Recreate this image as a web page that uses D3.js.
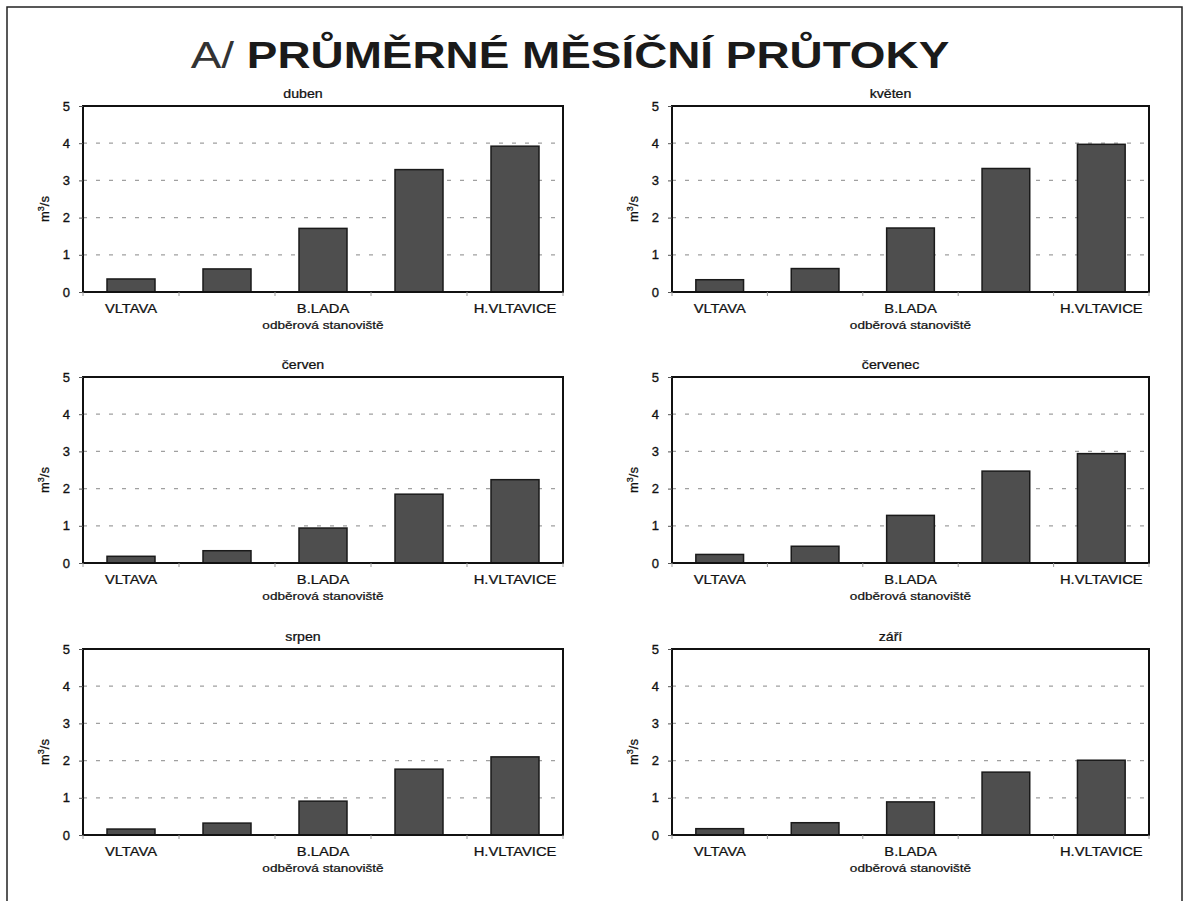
<!DOCTYPE html>
<html>
<head>
<meta charset="utf-8">
<script src="https://cdn.jsdelivr.net/npm/d3@7"></script>
<style>
  body { margin: 0; background: #fff; }
  svg { display: block; font-family: "Liberation Sans", Arial, sans-serif; }
</style>
</head>
<body>
<svg id="chart"></svg>
<script>
// data (m3/s)
const months = ["duben", "květen", "červen", "červenec", "srpen", "září"];
const siteLabels = ["VLTAVA", "", "B.LADA", "", "H.VLTAVICE"]; // 2nd and 4th labels hidden in original
const flowDuben    = [0.35, 0.62, 1.71, 3.29, 3.92];
const flowKveten   = [0.33, 0.63, 1.72, 3.32, 3.97];
const flowCerven   = [0.18, 0.33, 0.94, 1.85, 2.24];
const flowCervenec = [0.23, 0.45, 1.28, 2.47, 2.94];
const flowSrpen    = [0.16, 0.32, 0.91, 1.77, 2.10];
const flowZari     = [0.17, 0.33, 0.89, 1.69, 2.01];
const yTicks = [0, 1, 2, 3, 4, 5];

const flows = [flowDuben, flowKveten, flowCerven, flowCervenec, flowSrpen, flowZari];

const width = 1188, height = 901;
const sx = 1.18; // the scan is stretched sideways, text follows it

const svg = d3.select("#chart")
    .attr("width", width)
    .attr("height", height);

// outer frame of the slide
svg.append("rect")
    .attr("x", 7).attr("y", 7)
    .attr("width", 1175).attr("height", 910)
    .attr("fill", "none")
    .attr("stroke", "#222")
    .attr("stroke-width", 1.5);

// main title
const title = svg.append("text")
    .attr("transform", `translate(570,68) scale(1.24,1)`)
    .attr("text-anchor", "middle")
    .attr("font-size", 37)
    .attr("fill", "#1a1a1a");
title.append("tspan").attr("font-weight", "normal").attr("fill", "#333").text("A/ ");
title.append("tspan").attr("font-weight", "bold").text("PRŮMĚRNÉ MĚSÍČNÍ PRŮTOKY");

// panel layout
const colX = [83, 672];
const colW = [480, 477];
const rowY = [106, 377, 649];
const plotH = 186;

const y = d3.scaleLinear().domain([0, 5]).range([plotH, 0]);

function stretchedText(g, x, yy, txt, size) {
    return g.append("text")
        .attr("transform", `translate(${x},${yy}) scale(${sx},1)`)
        .attr("text-anchor", "middle")
        .attr("font-size", size)
        .attr("fill", "#111")
        .attr("stroke", "#111")
        .attr("stroke-width", 0.25)
        .text(txt);
}

months.forEach((month, i) => {
    const col = i % 2, row = Math.floor(i / 2);
    const w = colW[col];
    const g = svg.append("g")
        .attr("transform", `translate(${colX[col]},${rowY[row]})`);

    const x = d3.scaleBand()
        .domain(d3.range(siteLabels.length))
        .range([0, w])
        .paddingInner(0.5)
        .paddingOuter(0.25);

    // grid lines
    g.selectAll("line.grid")
        .data(yTicks.filter(t => t > 0 && t < 5))
        .join("line")
        .attr("class", "grid")
        .attr("x1", 0).attr("x2", w)
        .attr("y1", d => y(d)).attr("y2", d => y(d))
        .attr("stroke", "#a0a0a0")
        .attr("stroke-width", 1.3)
        .attr("stroke-dasharray", "4,9");

    // bars
    g.selectAll("rect.bar")
        .data(flows[i])
        .join("rect")
        .attr("class", "bar")
        .attr("x", (d, k) => x(k))
        .attr("width", x.bandwidth())
        .attr("y", d => y(d))
        .attr("height", d => plotH - y(d))
        .attr("fill", "#4e4e4e")
        .attr("stroke", "#1a1a1a")
        .attr("stroke-width", 1.5);

    // plot frame
    g.append("rect")
        .attr("width", w).attr("height", plotH)
        .attr("fill", "none")
        .attr("stroke", "#111")
        .attr("stroke-width", 2);

    // y axis
    const yAxis = g.append("g")
        .call(d3.axisLeft(y).tickValues(yTicks).tickSize(4).tickFormat(d3.format("d")));
    yAxis.select(".domain").remove();
    yAxis.selectAll("line").attr("stroke", "#555");
    yAxis.selectAll("text")
        .attr("font-size", 13)
        .attr("font-family", "Liberation Sans, Arial, sans-serif")
        .attr("fill", "#111")
        .attr("stroke", "#111")
        .attr("stroke-width", 0.35)
        .attr("x", -13);

    // x axis: ticks at category boundaries, labels only where the original shows them
    const bounds = d3.range(siteLabels.length + 1).map(k => k * x.step());
    g.selectAll("line.xtick")
        .data(bounds)
        .join("line")
        .attr("class", "xtick")
        .attr("x1", d => d).attr("x2", d => d)
        .attr("y1", plotH).attr("y2", plotH + 4)
        .attr("stroke", "#999");

    siteLabels.forEach((lab, k) => {
        if (lab) stretchedText(g, x(k) + x.bandwidth() / 2, plotH + 21, lab, 12.5);
    });

    stretchedText(g, w / 2, plotH + 37, "odběrová stanoviště", 11.5);
    stretchedText(g, w / 2 - 20, -8, month, 12);

    // y axis title m3/s
    const yl = g.append("text")
        .attr("transform", `translate(-34,${plotH / 2 + 10}) rotate(-90)`)
        .attr("text-anchor", "middle")
        .attr("font-size", 13)
        .attr("fill", "#111")
        .attr("stroke", "#111")
        .attr("stroke-width", 0.3);
    yl.append("tspan").text("m");
    yl.append("tspan").attr("font-size", 9).attr("dy", -5).text("3");
    yl.append("tspan").attr("dy", 5).text("/s");
});
</script>
</body>
</html>
